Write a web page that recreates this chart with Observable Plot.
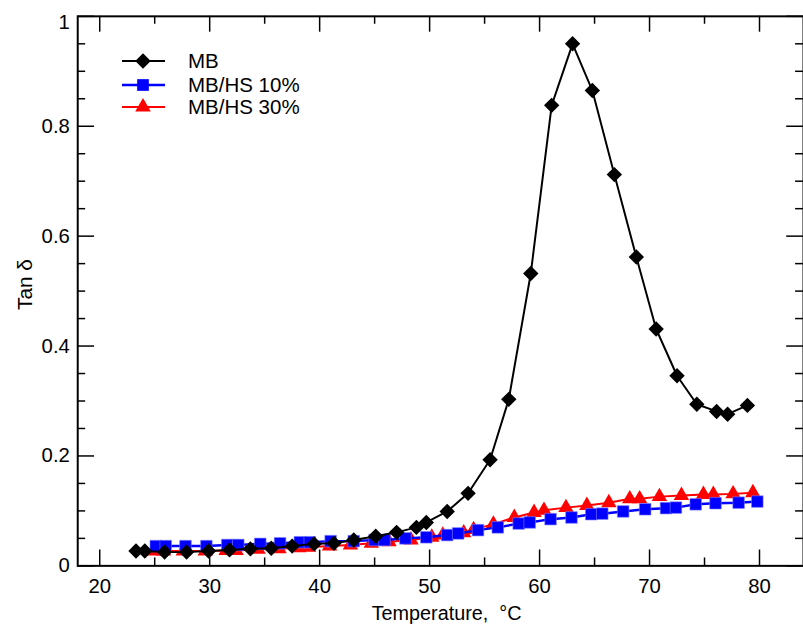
<!DOCTYPE html>
<html><head><meta charset="utf-8">
<script src="https://cdn.jsdelivr.net/npm/d3@7"></script>
<script src="https://cdn.jsdelivr.net/npm/@observablehq/plot@0.6"></script>
<style>
body{margin:0;background:#fff}
#wrap{position:relative;width:803px;height:630px;overflow:hidden}
#legend{position:absolute;left:0;top:0}
</style></head><body><div id="wrap"></div>
<script>
// Series: MB (black diamonds)
const mbT = [23.3,24.1,25.9,27.9,29.9,31.8,33.7,35.6,37.5,39.5,41.3,43.1,45.1,47.0,48.8,49.7,51.6,53.5,55.5,57.2,59.2,61.1,63.0,64.8,66.8,68.8,70.6,72.5,74.3,76.1,77.1,78.9];
const mbV = [0.027,0.027,0.025,0.025,0.027,0.029,0.031,0.032,0.036,0.040,0.041,0.047,0.054,0.061,0.070,0.079,0.099,0.132,0.193,0.303,0.532,0.838,0.950,0.865,0.712,0.562,0.431,0.346,0.294,0.281,0.276,0.292];
// Series: MB/HS 10% (blue squares)
const hs10T = [25.1,26.0,27.8,29.7,31.6,32.6,34.6,36.4,38.2,39.1,41.0,43.1,45.0,45.9,47.8,49.7,51.6,52.6,54.4,56.2,58.1,59.1,61.0,62.9,64.7,65.7,67.6,69.6,71.5,72.4,74.2,76.0,78.1,79.8];
const hs10V = [0.036,0.036,0.036,0.036,0.038,0.038,0.040,0.041,0.043,0.043,0.045,0.045,0.047,0.047,0.050,0.052,0.056,0.059,0.065,0.070,0.077,0.079,0.085,0.088,0.094,0.095,0.099,0.103,0.105,0.106,0.112,0.114,0.115,0.117];
// Series: MB/HS 30% (red triangles)
const hs30T = [24.9,25.8,27.6,29.6,31.5,32.4,34.4,36.3,38.1,39.0,40.9,42.8,44.7,46.3,48.3,50.2,51.2,53.1,54.0,55.8,57.7,59.5,60.4,62.4,64.3,66.3,68.2,69.1,70.9,72.9,74.9,75.8,77.6,79.4];
const hs30V = [0.027,0.027,0.027,0.027,0.028,0.028,0.030,0.031,0.033,0.034,0.036,0.038,0.041,0.044,0.047,0.052,0.056,0.060,0.066,0.076,0.088,0.097,0.101,0.106,0.110,0.115,0.122,0.122,0.126,0.128,0.130,0.130,0.131,0.133];

const seriesNames = ["MB", "MB/HS 10%", "MB/HS 30%"];
const xTicks = [20,30,40,50,60,70,80];
const xMinor = [25,35,45,55,65,75];
const yTicks = [0,0.2,0.4,0.6,0.8,1];
const yMinor = [0.05,0.1,0.15,0.25,0.3,0.35,0.45,0.5,0.55,0.65,0.7,0.75,0.85,0.9,0.95];
const xLabel = "Temperature,\u00a0\u00a0°C";
const yLabel = "Tan δ";

const toRows = (T, V) => T.map((t, i) => ({T: t, v: V[i]}));
const mb = toRows(mbT, mbV), hs10 = toRows(hs10T, hs10V), hs30 = toRows(hs30T, hs30V);

const colors = ["#000000", "#0000ff", "#ff0000"];
const symbols = ["diamond2", "square", "triangle"];
const radii = [7, 6.6, 5.8];

const W = 811, H = 630, mL = 78, mR = 0, mT = 16, mB = 59;
const iW = W - mL - mR, iH = H - mT - mB;
const fnt = "'Liberation Sans', Arial, Helvetica, sans-serif";
const fmtY = d3.format("~g");
const yMain = yTicks.slice(0, -1), yTop = yTicks.slice(-1);

const chart = Plot.plot({
  width: W, height: H,
  marginLeft: mL, marginRight: mR, marginTop: mT, marginBottom: mB,
  style: {fontFamily: fnt, fontSize: "20px", color: "#000", background: "#fff"},
  x: {domain: [18, 84]},
  y: {domain: [0, 1]},
  marks: [
    Plot.line(hs30, {x: "T", y: "v", stroke: colors[2], strokeWidth: 2}),
    Plot.dot(hs30, {x: "T", y: "v", symbol: symbols[2], r: radii[2], fill: colors[2]}),
    Plot.line(hs10, {x: "T", y: "v", stroke: colors[1], strokeWidth: 2.5}),
    Plot.dot(hs10, {x: "T", y: "v", symbol: symbols[1], r: radii[1], fill: colors[1], stroke: "#7f7fff", strokeWidth: 0.6}),
    Plot.line(mb, {x: "T", y: "v", stroke: colors[0], strokeWidth: 2}),
    Plot.dot(mb, {x: "T", y: "v", symbol: symbols[0], r: radii[0], fill: colors[0]}),
    // inward ticks: bottom & top
    Plot.tickX(xTicks, {x: d => d, insetTop: iH - 16, stroke: "#000", strokeWidth: 1.5}),
    Plot.tickX(xTicks, {x: d => d, insetBottom: iH - 16, stroke: "#000", strokeWidth: 1.5}),
    Plot.tickX(xMinor, {x: d => d, insetTop: iH - 8, stroke: "#000", strokeWidth: 1.5}),
    Plot.tickX(xMinor, {x: d => d, insetBottom: iH - 8, stroke: "#000", strokeWidth: 1.5}),
    // inward ticks: left & right
    Plot.tickY(yTicks, {y: d => d, insetRight: iW - 17, stroke: "#000", strokeWidth: 1.5}),
    Plot.tickY(yTicks, {y: d => d, insetLeft: iW - 17, stroke: "#000", strokeWidth: 1.5}),
    Plot.tickY(yMinor, {y: d => d, insetRight: iW - 8, stroke: "#000", strokeWidth: 1.5}),
    Plot.tickY(yMinor, {y: d => d, insetLeft: iW - 8, stroke: "#000", strokeWidth: 1.5}),
    Plot.frame({stroke: "#000", strokeWidth: 2}),
    Plot.axisX({ticks: xTicks, tickSize: 0, tickPadding: 13, fontSize: 20.5, label: null}),
    Plot.axisY({ticks: yMain, tickSize: 0, tickPadding: 8, fontSize: 20.5, tickFormat: fmtY, label: null}),
    Plot.axisY({ticks: yTop, tickSize: 0, tickPadding: 8, fontSize: 20.5, tickFormat: fmtY, label: null, dy: 6}),
    Plot.text([xLabel], {frameAnchor: "bottom", dy: 48, dx: 6, lineAnchor: "middle", fontSize: 20}),
    Plot.text([yLabel], {frameAnchor: "left", dx: -53, dy: 19, rotate: -90, lineAnchor: "middle", fontSize: 21})
  ]
});
const wrap = document.getElementById("wrap");
wrap.appendChild(chart);

// Legend overlay
const lg = d3.select(wrap).append("svg").attr("id", "legend").attr("width", 400).attr("height", 140)
  .style("font-family", fnt).style("font-size", "20.5px");
const rowsY = [61, 85, 107];
const symMap = {diamond2: d3.symbolDiamond2, square: d3.symbolSquare, triangle: d3.symbolTriangle};
seriesNames.forEach((name, i) => {
  const g = lg.append("g").attr("transform", `translate(0,${rowsY[i]})`);
  g.append("line").attr("x1", 122).attr("x2", 165).attr("y1", 0).attr("y2", 0)
    .attr("stroke", colors[i]).attr("stroke-width", i === 1 ? 2.5 : 2);
  g.append("path").attr("transform", "translate(143,0)")
    .attr("d", d3.symbol(symMap[symbols[i]], Math.PI * radii[i] * radii[i])())
    .attr("fill", colors[i]);
  g.append("text").attr("x", 188).attr("y", 0).attr("dy", "0.35em").text(name);
});
</script></body></html>
